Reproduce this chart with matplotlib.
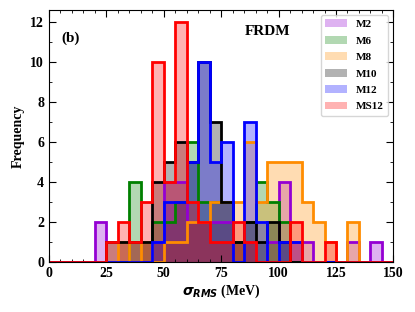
import numpy as np
import matplotlib
matplotlib.use('Agg')
import matplotlib.pyplot as plt
from matplotlib.ticker import MultipleLocator, AutoMinorLocator

plt.rcParams['font.family'] = ['Liberation Serif', 'DejaVu Serif']
plt.rcParams['font.weight'] = 'bold'

# bins of 5 MeV from 0 to 150, counts per bin
edges = np.arange(0, 155, 5)
centers = edges[:-1] + 2.5

m2 = [0, 0, 0, 0, 2, 0, 0, 0, 0, 1, 4, 4, 2, 2, 2, 2, 1, 1, 0, 1, 4, 1, 1, 0, 0, 0, 1, 0, 1, 0]
m6 = [0, 0, 0, 0, 0, 0, 0, 4, 1, 2, 2, 3, 6, 3, 3, 3, 1, 2, 4, 3, 2, 0, 0, 0, 0, 0, 0, 0, 0, 0]
m8 = [0, 0, 0, 0, 0, 0, 1, 0, 1, 0, 1, 1, 2, 2, 3, 3, 3, 6, 3, 5, 5, 5, 3, 2, 1, 0, 2, 0, 0, 0]
m10 = [0, 0, 0, 0, 0, 1, 1, 1, 1, 4, 5, 6, 5, 10, 7, 3, 1, 2, 1, 2, 1, 0, 0, 0, 0, 0, 0, 0, 0, 0]
m12 = [0, 0, 0, 0, 0, 0, 0, 0, 0, 1, 3, 3, 5, 10, 5, 6, 0, 7, 2, 0, 1, 1, 0, 0, 0, 0, 0, 0, 0, 0]
ms12 = [0, 0, 0, 0, 0, 1, 2, 1, 3, 10, 4, 12, 3, 2, 1, 1, 2, 1, 0, 0, 0, 2, 0, 0, 1, 0, 0, 0, 0, 0]

series = [('M2', m2, 'darkviolet'),
          ('M6', m6, 'green'),
          ('M8', m8, 'darkorange'),
          ('M10', m10, 'black'),
          ('M12', m12, 'blue'),
          ('MS12', ms12, 'red')]

fig = plt.figure(figsize=(4.15, 3.12), dpi=100)
ax = fig.add_axes([0.118, 0.160, 0.830, 0.808])

for name, counts, c in series:
    ax.hist(centers, bins=edges, weights=counts, histtype='stepfilled',
            alpha=0.3, color=c, label=name)
    ax.hist(centers, bins=edges, weights=counts, histtype='step',
            lw=2, color=c)

ax.set_xlim(0, 150)
ax.set_ylim(0, 12.6)
ax.xaxis.set_major_locator(MultipleLocator(25))
ax.xaxis.set_minor_locator(AutoMinorLocator())
ax.yaxis.set_major_locator(MultipleLocator(2))
ax.yaxis.set_minor_locator(MultipleLocator(1))
ax.tick_params(which='both', direction='in', top=True, right=True, labelsize=10)
ax.tick_params(which='major', length=5)
ax.tick_params(which='minor', length=2.5)

ax.set_xlabel(r'$\sigma_{RMS}$ (MeV)', fontsize=10, fontweight='bold', labelpad=2)
ax.set_ylabel('Frequency', fontsize=10, fontweight='bold', labelpad=4)

ax.text(0.035, 0.915, '(b)', transform=ax.transAxes, fontsize=11,
        fontweight='bold', va='top')
ax.text(0.568, 0.94, 'FRDM', transform=ax.transAxes, fontsize=11,
        fontweight='bold', va='top')

ax.legend(loc='upper right', prop={'weight': 'bold', 'size': 8},
          borderaxespad=0.45, labelspacing=0.6)

plt.savefig('out.png', dpi=100)
